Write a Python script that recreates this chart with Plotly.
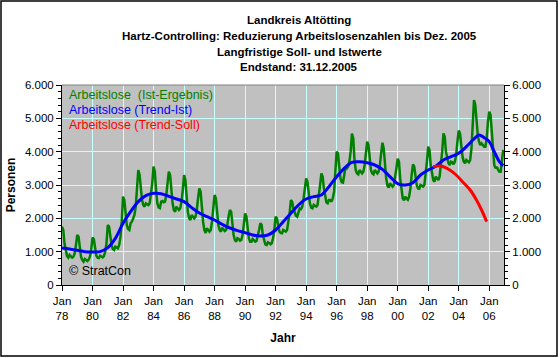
import pandas as pd
import plotly.graph_objects as go

# ---------------- data ----------------
# Arbeitslose (Ist-Ergebnis), monthly from Jan 1978
ist_ergebnis = [
    1750, 1650, 1250, 1000, 870, 820, 900, 860, 820, 850, 950, 1200,      # 1978
    1500, 1450, 1100, 850, 750, 700, 780, 760, 720, 760, 850, 1050,       # 1979
    1420, 1380, 1050, 880, 820, 810, 880, 850, 830, 870, 1000, 1250,      # 1980
    1800, 1750, 1400, 1200, 1080, 1050, 1150, 1120, 1100, 1200, 1450, 1900,  # 1981
    2650, 2550, 2100, 1800, 1680, 1650, 1850, 1900, 2000, 2100, 2350, 2800,  # 1982
    3450, 3300, 2850, 2550, 2400, 2350, 2450, 2420, 2400, 2450, 2700, 3050,  # 1983
    3550, 3400, 2850, 2450, 2330, 2310, 2500, 2520, 2480, 2500, 2700, 3050,  # 1984
    3400, 3300, 2800, 2450, 2250, 2200, 2350, 2300, 2250, 2300, 2500, 2850,  # 1985
    3300, 3150, 2600, 2200, 2000, 1950, 2100, 2060, 2000, 2050, 2250, 2600,  # 1986
    2900, 2800, 2300, 1900, 1650, 1560, 1700, 1660, 1600, 1650, 1900, 2300,  # 1987
    2700, 2600, 2150, 1800, 1650, 1600, 1720, 1680, 1620, 1650, 1800, 2050,  # 1988
    2250, 2200, 1800, 1500, 1350, 1300, 1400, 1380, 1330, 1350, 1500, 1800,  # 1989
    2150, 2050, 1700, 1400, 1300, 1300, 1380, 1350, 1300, 1320, 1450, 1650,  # 1990
    1850, 1800, 1500, 1300, 1220, 1200, 1280, 1260, 1220, 1250, 1400, 1650,  # 1991
    2050, 2000, 1750, 1600, 1560, 1550, 1650, 1620, 1600, 1650, 1850, 2150,  # 1992
    2550, 2500, 2300, 2150, 2080, 2050, 2200, 2300, 2280, 2350, 2600, 2900,  # 1993
    3200, 3100, 2700, 2450, 2320, 2300, 2400, 2380, 2350, 2400, 2650, 3000,  # 1994
    3350, 3250, 2900, 2600, 2480, 2450, 2550, 2550, 2500, 2600, 2800, 3400,  # 1995
    4000, 3950, 3500, 3200, 3080, 3070, 3300, 3550, 3500, 3550, 3700, 4000,  # 1996
    4540, 4400, 3800, 3450, 3350, 3320, 3450, 3400, 3350, 3400, 3600, 3950,  # 1997
    4300, 4200, 3700, 3450, 3350, 3320, 3450, 3400, 3350, 3400, 3600, 3950,  # 1998
    4270, 4100, 3600, 3200, 2980, 2920, 3050, 3000, 2950, 3000, 3200, 3500,  # 1999
    3790, 3700, 3200, 2800, 2600, 2540, 2650, 2600, 2560, 2650, 2900, 3300,  # 2000
    3620, 3550, 3250, 3000, 2900, 2890, 3000, 2980, 2950, 3000, 3300, 3700,  # 2001
    4150, 4050, 3600, 3300, 3150, 3100, 3250, 3200, 3150, 3250, 3550, 4000,  # 2002
    4550, 4450, 4000, 3750, 3650, 3600, 3700, 3680, 3620, 3700, 3900, 4300,  # 2003
    4630, 4550, 4100, 3850, 3700, 3650, 3750, 3700, 3680, 3750, 4100, 4800,  # 2004
    5550, 5400, 4800, 4500, 4300, 4200, 4250, 4200, 4150, 4150, 4400, 4900,  # 2005
    5200, 5100, 4600, 4000, 3600, 3500, 3550, 3450, 3400, 3400, 3700, 4050,  # 2006
]
ist_dates = pd.date_range("1978-01-01", periods=len(ist_ergebnis), freq="MS")

# Arbeitslose (Trend-Ist)
trend_ist_dates = [
    "1978-01-01", "1978-07-01", "1979-01-01", "1979-07-01", "1980-01-01", "1980-07-01",
    "1981-01-01", "1981-07-01", "1982-01-01", "1982-07-01", "1983-01-01", "1983-07-01",
    "1984-01-01", "1984-07-01", "1985-01-01", "1985-07-01", "1986-01-01", "1986-07-01",
    "1987-01-01", "1987-07-01", "1988-01-01", "1988-07-01", "1989-01-01", "1989-07-01",
    "1990-01-01", "1990-07-01", "1991-01-01", "1991-07-01", "1992-01-01", "1992-07-01",
    "1993-01-01", "1993-07-01", "1994-01-01", "1994-07-01", "1995-01-01", "1995-07-01",
    "1996-01-01", "1996-07-01", "1997-01-01", "1997-07-01", "1998-01-01", "1998-07-01",
    "1999-01-01", "1999-07-01", "2000-01-01", "2000-07-01", "2001-01-01", "2001-07-01",
    "2002-01-01", "2002-07-01", "2003-01-01", "2003-07-01", "2004-01-01", "2004-07-01",
    "2005-01-01", "2005-05-01", "2005-09-01", "2006-01-01", "2006-05-01", "2006-09-01",
    "2006-12-01",
]
trend_ist = [
    1110, 1080, 1040, 1000, 990, 1000,
    1120, 1400, 1850, 2200, 2500, 2680,
    2750, 2740, 2660, 2580, 2500, 2320,
    2160, 2050, 1950, 1820, 1710, 1630,
    1570, 1500, 1470, 1500, 1650, 1900,
    2150, 2400, 2580, 2650, 2700, 2950,
    3250, 3500, 3680, 3700, 3670, 3600,
    3470, 3250, 3040, 3000, 3070, 3300,
    3450, 3560, 3750, 3850, 3950, 4150,
    4380, 4500, 4420, 4300, 4000, 3700,
    3580,
]

# Arbeitslose (Trend-Soll)
trend_soll_dates = ["2002-05-01", "2002-11-01", "2003-06-01", "2003-11-01", "2004-04-01",
                    "2004-10-01", "2005-03-01", "2005-07-01", "2005-11-01"]
trend_soll = [3550, 3570, 3450, 3300, 3100, 2850, 2550, 2250, 1900]

# axis ticks
x_tick_dates = [f"{y}-01-01" for y in range(1978, 2007, 2)]
x_tick_text = [f"Jan<br>{str(y)[2:]}" for y in range(1978, 2007, 2)]
y_tick_vals = [0, 1000, 2000, 3000, 4000, 5000, 6000]
y_tick_text = ["0", "1.000", "2.000", "3.000", "4.000", "5.000", "6.000"]

title_lines = ["Landkreis Altötting",
               "Hartz-Controlling: Reduzierung Arbeitslosenzahlen bis Dez. 2005",
               "Langfristige Soll- und Istwerte",
               "Endstand: 31.12.2005"]
legend_labels = ["Arbeitslose  (Ist-Ergebnis)", "Arbeitslose (Trend-Ist)", "Arbeitslose (Trend-Soll)"]
colors = ["#008000", "#0000FF", "#FF0000"]

# ---------------- figure ----------------
FONT = "Arial, Liberation Sans, sans-serif"
W, H = 560, 358
L, R, T, B = 62, 56, 85, 73
PW, PH = W - L - R, H - T - B


def px(x):
    return (x - L) / PW


def py(y):
    return (H - B - y) / PH


fig = go.Figure()
fig.add_trace(go.Scatter(x=ist_dates, y=ist_ergebnis, mode="lines",
                         line=dict(color=colors[0], width=2.5), showlegend=False))
fig.add_trace(go.Scatter(x=trend_ist_dates, y=trend_ist, mode="lines",
                         line=dict(color=colors[1], width=3, shape="spline"), showlegend=False))
fig.add_trace(go.Scatter(x=trend_soll_dates, y=trend_soll, mode="lines", yaxis="y2",
                         line=dict(color=colors[2], width=3, shape="spline"), showlegend=False))

grid = "#C8FFFF"
fig.update_layout(
    width=W, height=H,
    margin=dict(l=L, r=R, t=T, b=B),
    paper_bgcolor="white", plot_bgcolor="#C0C0C0",
    font=dict(family=FONT, size=11.5, color="black"),
    xaxis=dict(type="date", range=["1978-01-01", "2006-12-20"],
               tickvals=x_tick_dates, ticktext=x_tick_text,
               showgrid=True, gridcolor=grid, gridwidth=1,
               showline=True, linecolor="black", linewidth=1,
               ticks="outside", ticklen=5, tickcolor="black",
               title=dict(text="<b>Jahr</b>", font=dict(size=12), standoff=12),
               zeroline=False),
    yaxis=dict(range=[0, 6000], tickvals=y_tick_vals, ticktext=y_tick_text,
               showgrid=True, gridcolor=grid, gridwidth=1,
               showline=True, linecolor="black", linewidth=1,
               ticks="outside", ticklen=5, tickcolor="black",
               minor=dict(dtick=200, tick0=0, ticks="outside", ticklen=3, tickcolor="black", showgrid=False),
               title=dict(text="<b>Personen</b>", font=dict(size=12), standoff=6),
               zeroline=False),
    yaxis2=dict(range=[0, 6000], overlaying="y", side="right",
                tickvals=y_tick_vals, ticktext=y_tick_text,
                showgrid=False, showline=True, linecolor="black", linewidth=1,
                ticks="outside", ticklen=5, tickcolor="black",
                minor=dict(dtick=200, tick0=0, ticks="outside", ticklen=3, tickcolor="black"),
                zeroline=False),
)

# plot area top border and outer frame
fig.add_shape(type="line", xref="paper", yref="paper", x0=0, x1=1, y0=1, y1=1,
              line=dict(color="#808080", width=1))
fig.add_shape(type="rect", xref="paper", yref="paper",
              x0=px(1), x1=px(557), y0=py(356), y1=py(1),
              line=dict(color="black", width=1.5))

# title lines
for t, yy in zip(title_lines, [20, 36, 52, 67]):
    fig.add_annotation(text=f"<b>{t}</b>", xref="paper", yref="paper",
                       x=px(299), y=py(yy), showarrow=False,
                       xanchor="center", yanchor="middle", font=dict(size=11.5))

# legend text
for lab, c, yy in zip(legend_labels, colors, [95, 110, 125]):
    fig.add_annotation(text=lab, xref="paper", yref="paper", x=px(67), y=py(yy),
                       showarrow=False, xanchor="left", yanchor="middle",
                       font=dict(size=12.5, color=c))

fig.add_annotation(text="© StratCon", xref="paper", yref="paper", x=px(67), y=py(271),
                   showarrow=False, xanchor="left", yanchor="middle", font=dict(size=12.5))

fig.write_html("out.html", config={"displayModeBar": False},
               post_script="document.body.style.margin='0px';document.body.style.padding='0px';")
